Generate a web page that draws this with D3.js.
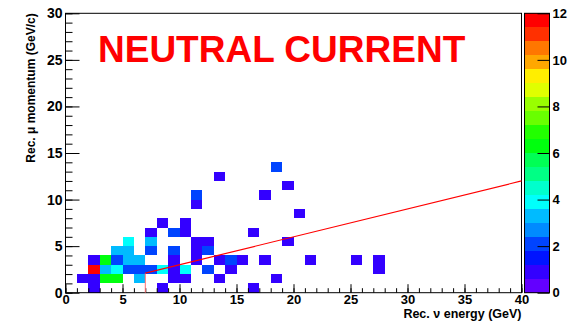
<!DOCTYPE html>
<html>
<head>
<meta charset="utf-8">
<script src="https://cdn.jsdelivr.net/npm/d3@7"></script>
<style>
  html, body { margin: 0; padding: 0; background: #fff; }
  svg { display: block; }
  text { font-family: "Liberation Sans", Arial, Helvetica, sans-serif; font-weight: bold; }
</style>
</head>
<body>
<svg id="chart" width="573" height="321"></svg>
<script>
// ---- data ----
const chartTitle = "NEUTRAL CURRENT";
const xTitle = "Rec. \u03bd energy (GeV)";
const yTitle = "Rec. \u03bc momentum (GeV/c)";
const xDomain = [0, 40];
const yDomain = [0, 30];
const zDomain = [0, 12];
const xMajorTicks = [0, 5, 10, 15, 20, 25, 30, 35, 40];
const yMajorTicks = [0, 5, 10, 15, 20, 25, 30];
const zMajorTicks = [0, 2, 4, 6, 8, 10, 12];
const nContours = 20;
// histogram cells: lower-edge of energy bin, lower-edge of momentum bin, entries (1 GeV bins)
const cellEnergy = [2, 8, 16,
  1, 2, 3, 4, 6, 9, 10, 13, 18,
  2, 3, 4, 5, 6, 7, 8, 9, 10, 12, 14, 27,
  2, 3, 4, 5, 6, 9, 11, 13, 14, 15, 17, 21, 25, 27,
  4, 5, 7, 9, 11, 12,
  5, 7, 11, 12, 19,
  7, 9, 10, 16,
  8, 10,
  20,
  11,
  11, 17,
  19,
  13,
  18];
const cellMomentum = [0, 0, 0,
  1, 1, 1, 1, 1, 1, 1, 1, 1,
  2, 2, 2, 2, 2, 2, 2, 2, 2, 2, 2, 2,
  3, 3, 3, 3, 3, 3, 3, 3, 3, 3, 3, 3, 3, 3,
  4, 4, 4, 4, 4, 4,
  5, 5, 5, 5, 5,
  6, 6, 6, 6,
  7, 7,
  8,
  9,
  10, 10,
  11,
  12,
  13];
const cellCount = [1, 1, 1,
  1, 1, 6, 6, 3, 1, 1, 1, 1,
  12, 3, 4, 2, 2, 2, 4, 1, 4, 2, 1, 1,
  1, 6, 2, 3, 3, 1, 1, 1, 2, 1, 1, 1, 1, 1,
  3, 3, 2, 2, 1, 2,
  4, 3, 1, 1, 1,
  1, 2, 1, 1,
  1, 1,
  1,
  1,
  2, 1,
  1,
  1,
  2];
// cut line
const cutEnergy = [7, 7, 40];
const cutMomentum = [0, 2.1, 12];

// ---- layout ----
const svg = d3.select("#chart");
const frame = { left: 65.5, right: 521.5, top: 13.3, bottom: 292.7 };
const x = d3.scaleLinear().domain(xDomain).range([frame.left, frame.right]);
const y = d3.scaleLinear().domain(yDomain).range([frame.bottom, frame.top]);
const bar = { left: 524, right: 549 };
const z = d3.scaleLinear().domain(zDomain).range([frame.bottom, frame.top]);

// ROOT "pretty" palette (50 colours, hue 280 -> 0) with 20 contour levels
function levelColor(k) {
  const idx = Math.floor((k + 0.99) * 50 / nContours);
  const hue = 280 - (idx + 1) * (280 / 50);
  return d3.hsl(hue, 1, 0.5).toString();
}
function valueColor(v) {
  let k = Math.floor(0.01 + (v - zDomain[0]) * nContours / (zDomain[1] - zDomain[0]));
  if (k > nContours - 1) k = nContours - 1;
  if (k < 0) k = 0;
  return levelColor(k);
}

// cells
const cells = cellEnergy.map((e, i) => ({ e, m: cellMomentum[i], c: cellCount[i] }));
svg.append("g").selectAll("rect").data(cells).enter().append("rect")
  .attr("x", d => x(d.e))
  .attr("y", d => y(d.m + 1))
  .attr("width", d => x(d.e + 1) - x(d.e))
  .attr("height", d => y(d.m) - y(d.m + 1))
  .attr("fill", d => valueColor(d.c))
  .attr("shape-rendering", "crispEdges");

// frame
svg.append("rect")
  .attr("x", frame.left).attr("y", frame.top)
  .attr("width", frame.right - frame.left).attr("height", frame.bottom - frame.top)
  .attr("fill", "none").attr("stroke", "#000").attr("stroke-width", 1);

// axes
function styleAxis(g, fontSize) {
  g.select(".domain").remove();
  g.selectAll("line").attr("stroke", "#000").attr("stroke-width", 1);
  g.selectAll("text").attr("fill", "#000").attr("font-size", fontSize + "px")
    .attr("font-family", "'Liberation Sans', Arial, sans-serif").attr("font-weight", "bold");
}
const xMinor = d3.range(xDomain[0], xDomain[1] + 1, 1);
const yMinor = d3.range(yDomain[0], yDomain[1] + 1, 1);

svg.append("g").attr("transform", `translate(0,${frame.bottom})`)
  .call(d3.axisBottom(x).tickValues(xMinor).tickSize(-4.5).tickFormat(""))
  .call(g => styleAxis(g, 14));
svg.append("g").attr("transform", `translate(0,${frame.bottom})`)
  .call(d3.axisBottom(x).tickValues(xMajorTicks).tickSize(-8.5).tickPadding(2).tickFormat(d3.format("d")))
  .call(g => styleAxis(g, 13));

svg.append("g").attr("transform", `translate(${frame.left},0)`)
  .call(d3.axisLeft(y).tickValues(yMinor).tickSize(-7).tickFormat(""))
  .call(g => styleAxis(g, 14));
svg.append("g").attr("transform", `translate(${frame.left},0)`)
  .call(d3.axisLeft(y).tickValues(yMajorTicks).tickSize(-14).tickPadding(3).tickFormat(d3.format("d")))
  .call(g => styleAxis(g, 14));

// cut line
const cutPts = cutEnergy.map((e, i) => [e, cutMomentum[i]]);
svg.append("line")
  .attr("x1", x(cutPts[0][0])).attr("y1", y(cutPts[0][1]))
  .attr("x2", x(cutPts[1][0])).attr("y2", y(cutPts[1][1]))
  .attr("stroke", "#ff7070").attr("stroke-width", 1);
svg.append("line")
  .attr("x1", x(cutPts[1][0])).attr("y1", y(cutPts[1][1]))
  .attr("x2", x(cutPts[2][0])).attr("y2", y(cutPts[2][1]))
  .attr("stroke", "#ff0000").attr("stroke-width", 1.2);

// colour bar
const levels = d3.range(nContours);
const step = (zDomain[1] - zDomain[0]) / nContours;
svg.append("g").selectAll("rect").data(levels).enter().append("rect")
  .attr("x", bar.left)
  .attr("y", k => z(zDomain[0] + (k + 1) * step))
  .attr("width", bar.right - bar.left)
  .attr("height", k => z(zDomain[0] + k * step) - z(zDomain[0] + (k + 1) * step))
  .attr("fill", k => levelColor(k))
  .attr("shape-rendering", "crispEdges");
svg.append("rect")
  .attr("x", bar.left + 0.5).attr("y", frame.top)
  .attr("width", bar.right - bar.left).attr("height", frame.bottom - frame.top)
  .attr("fill", "none").attr("stroke", "#000").attr("stroke-width", 1);
svg.append("g").attr("transform", `translate(${bar.right + 0.5},0)`)
  .call(d3.axisRight(z).tickValues(zMajorTicks).tickSize(-12).tickPadding(3).tickFormat(d3.format("d")))
  .call(g => styleAxis(g, 13));

// titles
svg.append("text")
  .attr("x", 98).attr("y", 62)
  .attr("font-size", "37px").attr("fill", "#ff0000")
  .text(chartTitle);
svg.append("text")
  .attr("x", frame.right).attr("y", 318.3)
  .attr("text-anchor", "end").attr("font-size", "12.5px").attr("fill", "#000")
  .text(xTitle);
svg.append("text")
  .attr("transform", `translate(35,${frame.top}) rotate(-90)`)
  .attr("text-anchor", "end").attr("font-size", "12px").attr("fill", "#000")
  .text(yTitle);
</script>
</body>
</html>
